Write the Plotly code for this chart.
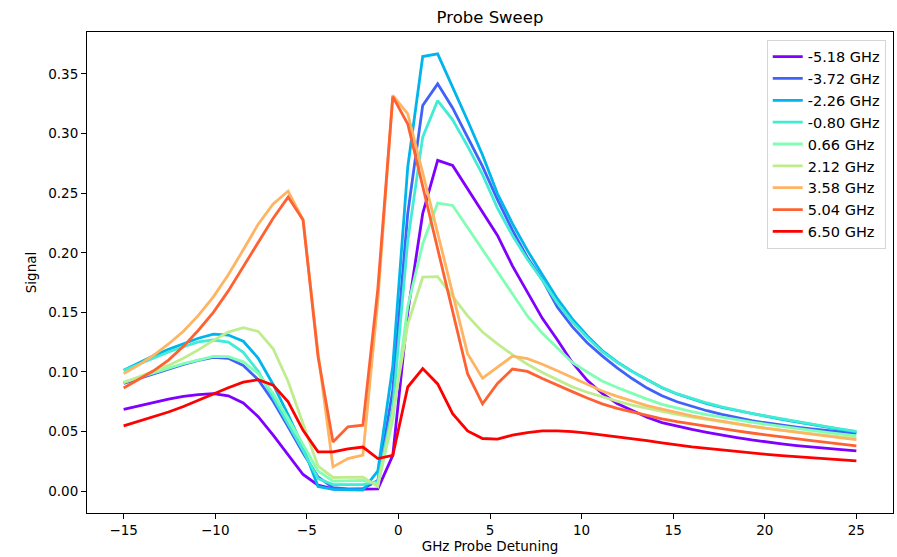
import numpy as np
import plotly.graph_objects as go

# Probe detuning grid (GHz): 50 evenly spaced samples from -15 to 25
detuning = np.linspace(-15, 25, 50)

coupling_labels = ["-5.18 GHz", "-3.72 GHz", "-2.26 GHz", "-0.80 GHz", "0.66 GHz",
                   "2.12 GHz", "3.58 GHz", "5.04 GHz", "6.50 GHz"]

# rainbow colormap sampled at 9 evenly spaced points
colors = ["#8000ff", "#4062fa", "#00b4ec", "#40ecd4", "#80ffb4",
          "#bfec8e", "#ffb462", "#ff6232", "#ff0000"]

sig_m518 = [0.0687, 0.0715, 0.0748, 0.0773, 0.0795, 0.0810, 0.0818, 0.0800, 0.0740, 0.0625,
            0.0470, 0.0300, 0.0140, 0.0050, 0.0020, 0.0015, 0.0015, 0.0020, 0.0300, 0.1500,
            0.2330, 0.2775, 0.2733, 0.2535, 0.2335, 0.2145, 0.1890, 0.1665, 0.1450, 0.1270,
            0.1080, 0.0930, 0.0820, 0.0735, 0.0675, 0.0620, 0.0575, 0.0545, 0.0518, 0.0494,
            0.0470, 0.0450, 0.0430, 0.0412, 0.0397, 0.0383, 0.0370, 0.0359, 0.0348, 0.0338]

sig_m372 = [0.0905, 0.0945, 0.0985, 0.1025, 0.1063, 0.1097, 0.1122, 0.1115, 0.1055, 0.0935,
            0.0755, 0.0540, 0.0320, 0.0120, 0.0030, 0.0020, 0.0020, 0.0090, 0.0850, 0.2330,
            0.3236, 0.3417, 0.3215, 0.2970, 0.2725, 0.2445, 0.2190, 0.1960, 0.1775, 0.1545,
            0.1380, 0.1245, 0.1135, 0.1035, 0.0945, 0.0865, 0.0800, 0.0750, 0.0710, 0.0675,
            0.0644, 0.0616, 0.0592, 0.0572, 0.0553, 0.0537, 0.0522, 0.0508, 0.0496, 0.0485]

sig_m226 = [0.1014, 0.1075, 0.1135, 0.1190, 0.1236, 0.1283, 0.1318, 0.1310, 0.1258, 0.1115,
            0.0895, 0.0640, 0.0370, 0.0040, 0.0015, 0.0010, 0.0010, 0.0170, 0.1050, 0.2720,
            0.3646, 0.3669, 0.3395, 0.3110, 0.2820, 0.2495, 0.2245, 0.2020, 0.1815, 0.1615,
            0.1445, 0.1305, 0.1180, 0.1085, 0.1005, 0.0935, 0.0868, 0.0815, 0.0772, 0.0735,
            0.0702, 0.0675, 0.0650, 0.0627, 0.0603, 0.0580, 0.0558, 0.0537, 0.0517, 0.0498]

sig_m080 = [0.1012, 0.1065, 0.1118, 0.1168, 0.1212, 0.1252, 0.1268, 0.1250, 0.1165, 0.1005,
            0.0785, 0.0565, 0.0340, 0.0105, 0.0055, 0.0055, 0.0055, 0.0080, 0.0700, 0.2100,
            0.2970, 0.3277, 0.3115, 0.2895, 0.2655, 0.2375, 0.2145, 0.1945, 0.1770, 0.1580,
            0.1420, 0.1290, 0.1170, 0.1080, 0.1003, 0.0935, 0.0870, 0.0818, 0.0776, 0.0740,
            0.0707, 0.0678, 0.0652, 0.0629, 0.0606, 0.0584, 0.0562, 0.0541, 0.0521, 0.0502]

sig_p066 = [0.0915, 0.0955, 0.0995, 0.1035, 0.1070, 0.1100, 0.1130, 0.1128, 0.1085, 0.0985,
            0.0820, 0.0610, 0.0390, 0.0170, 0.0085, 0.0088, 0.0090, 0.0060, 0.0600, 0.1550,
            0.2076, 0.2417, 0.2397, 0.2212, 0.2027, 0.1849, 0.1665, 0.1470, 0.1325, 0.1200,
            0.1080, 0.1000, 0.0925, 0.0870, 0.0820, 0.0772, 0.0728, 0.0695, 0.0668, 0.0643,
            0.0620, 0.0599, 0.0579, 0.0560, 0.0542, 0.0525, 0.0509, 0.0493, 0.0478, 0.0463]

sig_p212 = [0.0910, 0.0958, 0.1005, 0.1055, 0.1115, 0.1185, 0.1265, 0.1335, 0.1372, 0.1340,
            0.1195, 0.0920, 0.0565, 0.0210, 0.0115, 0.0115, 0.0118, 0.0040, 0.0650, 0.1400,
            0.1795, 0.1800, 0.1640, 0.1470, 0.1335, 0.1235, 0.1145, 0.1065, 0.0995, 0.0935,
            0.0875, 0.0830, 0.0790, 0.0755, 0.0722, 0.0694, 0.0668, 0.0644, 0.0621, 0.0600,
            0.0580, 0.0561, 0.0543, 0.0527, 0.0511, 0.0496, 0.0482, 0.0468, 0.0455, 0.0442]

sig_p358 = [0.0986, 0.1058, 0.1140, 0.1235, 0.1342, 0.1475, 0.1630, 0.1815, 0.2025, 0.2240,
            0.2410, 0.2517, 0.2275, 0.1160, 0.0204, 0.0274, 0.0302, 0.1600, 0.3320, 0.3166,
            0.2670, 0.2170, 0.1660, 0.1154, 0.0948, 0.1040, 0.1132, 0.1112, 0.1065, 0.1010,
            0.0955, 0.0895, 0.0840, 0.0795, 0.0755, 0.0718, 0.0688, 0.0658, 0.0632, 0.0608,
            0.0586, 0.0565, 0.0545, 0.0527, 0.0510, 0.0494, 0.0478, 0.0463, 0.0448, 0.0433]

sig_p504 = [0.0866, 0.0935, 0.1010, 0.1100, 0.1215, 0.1350, 0.1500, 0.1680, 0.1880, 0.2090,
            0.2290, 0.2467, 0.2275, 0.1130, 0.0413, 0.0540, 0.0553, 0.1700, 0.3310, 0.3080,
            0.2560, 0.2040, 0.1510, 0.0986, 0.0732, 0.0903, 0.1025, 0.1005, 0.0945, 0.0888,
            0.0835, 0.0782, 0.0733, 0.0695, 0.0665, 0.0635, 0.0607, 0.0583, 0.0562, 0.0542,
            0.0523, 0.0505, 0.0488, 0.0471, 0.0455, 0.0440, 0.0425, 0.0410, 0.0395, 0.0380]

sig_p650 = [0.0548, 0.0585, 0.0622, 0.0664, 0.0710, 0.0760, 0.0815, 0.0868, 0.0915, 0.0935,
            0.0890, 0.0750, 0.0510, 0.0330, 0.0330, 0.0355, 0.0370, 0.0274, 0.0300, 0.0874,
            0.1028, 0.0900, 0.0650, 0.0505, 0.0442, 0.0436, 0.0470, 0.0492, 0.0506, 0.0506,
            0.0500, 0.0487, 0.0472, 0.0457, 0.0440, 0.0424, 0.0405, 0.0386, 0.0372, 0.0359,
            0.0345, 0.0333, 0.0321, 0.0309, 0.0299, 0.0289, 0.0280, 0.0271, 0.0263, 0.0255]

signals = [sig_m518, sig_m372, sig_m226, sig_m080, sig_p066,
           sig_p212, sig_p358, sig_p504, sig_p650]

FONT = "DejaVu Sans"

fig = go.Figure()
for label, color, sig in zip(coupling_labels, colors, signals):
    fig.add_trace(go.Scatter(x=detuning, y=sig, mode="lines", name=label,
                             line=dict(color=color, width=2.8)))

axis_common = dict(showline=True, mirror=True, linecolor="black", linewidth=1,
                   showgrid=False, zeroline=False, ticks="outside", ticklen=5,
                   tickwidth=1, tickcolor="black",
                   tickfont=dict(family=FONT, size=13.5, color="black"))

fig.update_layout(
    width=897, height=557,
    margin=dict(l=87, r=4, t=32, b=44),
    paper_bgcolor="white", plot_bgcolor="white",
    font=dict(family=FONT, color="black"),
    title=dict(text="Probe Sweep", x=0.5, xref="paper", y=1 - 17 / 557,
               yref="container", xanchor="center", yanchor="middle",
               font=dict(family=FONT, size=16.5, color="black")),
    xaxis=dict(range=[-17, 27], tickvals=[-15, -10, -5, 0, 5, 10, 15, 20, 25],
               title=dict(text="GHz Probe Detuning", standoff=4,
                          font=dict(family=FONT, size=13.5, color="black")),
               **axis_common),
    yaxis=dict(range=[-0.0183, 0.3852], tickvals=[0, 0.05, 0.10, 0.15, 0.20, 0.25, 0.30, 0.35],
               tickformat=".2f",
               title=dict(text="Signal", standoff=8,
                          font=dict(family=FONT, size=13.5, color="black")),
               **axis_common),
    legend=dict(x=0.991, y=0.984, xanchor="right", yanchor="top",
                bgcolor="rgba(255,255,255,0.8)", bordercolor="#d5d5d5", borderwidth=1,
                font=dict(family=FONT, size=14.5, color="black"),
                tracegroupgap=0, itemwidth=30),
    showlegend=True,
)

fig.write_html("out.html")
